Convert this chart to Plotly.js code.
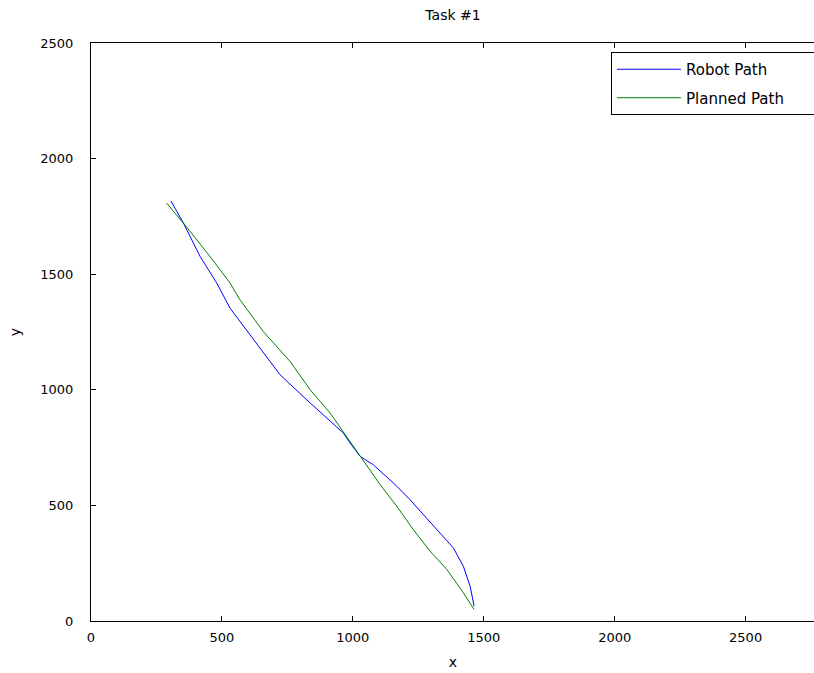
<!DOCTYPE html>
<html>
<head>
<meta charset="utf-8">
<script src="https://cdn.plot.ly/plotly-3.0.1.min.js"></script>
<style>
html, body { margin: 0; padding: 0; overflow: hidden; background: #fff; }
#chart { width: 816px; height: 673px; }
</style>
</head>
<body>
<div id="chart"></div>
<script>
// Robot path (blue)
const robotX = [305, 353, 417, 480, 531, 588, 658, 722, 837, 964, 989, 1028, 1078, 1168, 1218, 1282, 1333, 1384, 1422, 1448, 1463];
const robotY = [1817, 1721, 1576, 1462, 1353, 1267, 1159, 1065, 943, 813, 770, 712, 676, 583, 525, 446, 381, 316, 237, 150, 64];
// Planned path (green)
const plannedX = [289, 353, 455, 531, 569, 646, 658, 760, 837, 913, 1002, 1028, 1104, 1168, 1231, 1295, 1359, 1422, 1463];
const plannedY = [1807, 1721, 1576, 1462, 1389, 1274, 1252, 1123, 1000, 900, 755, 712, 590, 496, 395, 302, 223, 122, 50];

const xTicks = [0, 500, 1000, 1500, 2000, 2500];
const yTicks = [0, 500, 1000, 1500, 2000, 2500];
const titleText = 'Task #1';
const seriesNames = ['Robot Path', 'Planned Path'];

const fam = 'DejaVu Sans, Liberation Sans, sans-serif';
const font = { family: fam, size: 13, color: '#000' };
const bigFont = { family: fam, size: 14, color: '#000' };
const legFont = { family: fam, size: 15, color: '#000' };
// trailing padding so the legend box runs past the cropped right edge, as in the reference
const pad = '\u00a0\u00a0\u00a0\u00a0\u00a0\u00a0\u00a0\u00a0\u00a0';

const traces = [
  { x: robotX, y: robotY, type: 'scatter', mode: 'lines', name: seriesNames[0],
    legendgroup: 'a', line: { color: 'rgb(0,0,255)', width: 1 } },
  { x: plannedX, y: plannedY, type: 'scatter', mode: 'lines', name: seriesNames[1] + pad,
    legendgroup: 'b', line: { color: 'rgb(0,128,0)', width: 1 } }
];

const axisCommon = {
  showgrid: false, zeroline: false, showline: true, linecolor: '#000', linewidth: 1,
  ticks: 'inside', ticklen: 5, tickcolor: '#000', tickwidth: 1,
  tickfont: font
};

const layout = {
  width: 816, height: 673,
  margin: { l: 91, r: 1, t: 43, b: 52, autoexpand: false },
  paper_bgcolor: '#fff', plot_bgcolor: '#fff',
  font: font,
  title: { text: titleText, font: bigFont, xref: 'paper', x: 0.5, xanchor: 'center',
           yref: 'container', y: 1 - 15 / 673, yanchor: 'middle' },
  xaxis: Object.assign({}, axisCommon, {
    mirror: 'ticks',
    range: [0, 2765], tickvals: xTicks, ticktext: xTicks.map(String),
    ticklabelstandoff: 4,
    title: { text: 'x', font: bigFont, standoff: 13 }
  }),
  yaxis: Object.assign({}, axisCommon, {
    mirror: false,
    range: [0, 2500], tickvals: yTicks, ticktext: yTicks.map(String),
    ticklabelstandoff: 14,
    title: { text: 'y', font: bigFont, standoff: 16 }
  }),
  showlegend: true,
  legend: {
    x: (611 - 91) / 724, y: 1 - 9 / 578, xanchor: 'left', yanchor: 'top',
    bgcolor: '#fff', bordercolor: '#000', borderwidth: 1,
    font: legFont, traceorder: 'grouped', tracegroupgap: 6, itemwidth: 64
  }
};

Plotly.newPlot('chart', traces, layout, { displayModeBar: false, staticPlot: true });
</script>
</body>
</html>
